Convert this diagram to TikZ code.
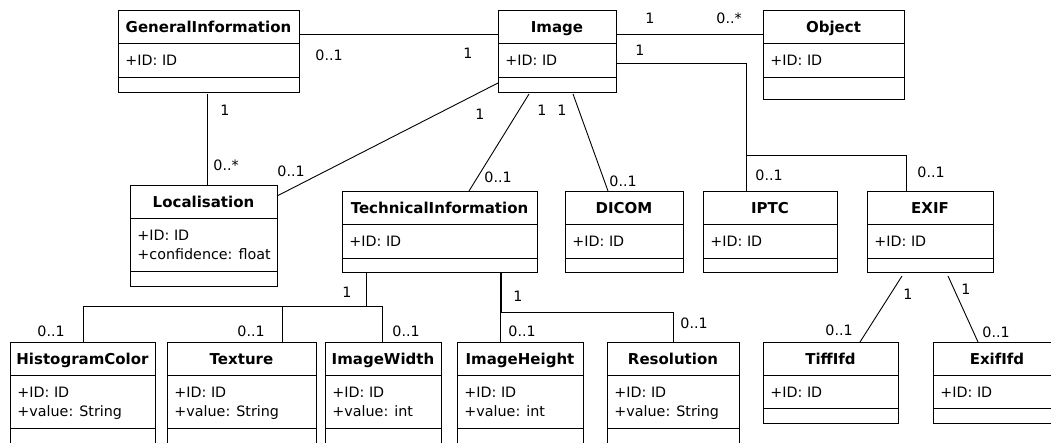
\documentclass[tikz,border=0pt]{standalone}
\usepackage{fontspec}
\setmainfont{DejaVu Sans}
\tikzset{
  classbox/.style={draw, rectangle, inner sep=0pt, outer sep=0pt, anchor=north west},
  classname/.style={font=\fontsize{15}{18}\selectfont\bfseries, anchor=base, inner sep=0pt},
  attr/.style={anchor=base west, inner sep=0pt},
  mult/.style={anchor=base west, inner sep=0pt},
}
% name, corner, width, height, title, height of attribute part, attributes
\newcommand{\umlclass}[7]{%
  \node[classbox, minimum width=#3pt, minimum height=#4pt] (#1) at (#2) {};
  \draw ([yshift=-33pt]#1.north west) -- ([yshift=-33pt]#1.north east);
  \draw ([yshift=-33pt-#6pt]#1.north west) -- ([yshift=-33pt-#6pt]#1.north east);
  \node[classname] at ([yshift=-22pt]#1.north) {#5};
  \foreach \a [count=\i] in {#7}
    \node[attr] at ([xshift=7pt, yshift={(-36-19*\i)*1pt}]#1.north west) {\a};
}
\begin{document}
\begin{tikzpicture}[x=1pt, y=-1pt, line width=0.9pt, font=\fontsize{14.3}{18}\selectfont]
\clip (0,0) rectangle (1051,442);
\fill[white] (0,0) rectangle (1051,442);
% classes
\umlclass{geninfo}{118,10}{181}{82}{GeneralInformation}{34}{+ID: ID}
\umlclass{image}{498,10}{118}{82}{Image}{34}{+ID: ID}
\umlclass{object}{763,10}{141}{89}{Object}{34}{+ID: ID}
\umlclass{localisation}{130,185}{147}{101}{Localisation}{53}{+ID: ID, +confidence: float}
\umlclass{techinfo}{342,191}{195}{81}{TechnicalInformation}{34}{+ID: ID}
\umlclass{dicom}{565,191}{118}{81}{DICOM}{34}{+ID: ID}
\umlclass{iptc}{703,191}{134}{81}{IPTC}{34}{+ID: ID}
\umlclass{exif}{867,191}{126}{81}{EXIF}{34}{+ID: ID}
\umlclass{histogram}{10,342}{145}{110}{HistogramColor}{53}{+ID: ID, +value: String}
\umlclass{texture}{167,342}{149}{110}{Texture}{53}{+ID: ID, +value: String}
\umlclass{imagewidth}{325,342}{116}{110}{ImageWidth}{53}{+ID: ID, +value: int}
\umlclass{imageheight}{457,342}{126}{110}{ImageHeight}{53}{+ID: ID, +value: int}
\umlclass{resolution}{607,342}{132}{110}{Resolution}{53}{+ID: ID, +value: String}
\umlclass{tiffifd}{763,342}{135}{81}{TiffIfd}{33}{+ID: ID}
\umlclass{exififd}{933,342}{128}{81}{ExifIfd}{33}{+ID: ID}
% associations
\coordinate (jmeta) at (746,155);
\coordinate (tleft) at (366,306);
\coordinate (tright) at (501,312);
\draw ([yshift=-24pt]geninfo.north east) -- ([yshift=-24pt]image.north west);
\draw ([yshift=-24pt]image.north east) -- ([yshift=-24pt]object.north west);
\draw ([yshift=-53pt]image.north east) -| ([xshift=43pt]iptc.north west);
\draw (jmeta) -| ([xshift=39pt]exif.north west);
\draw ([xshift=89pt,yshift=-2pt]geninfo.south west) -- ([xshift=77pt]localisation.north west);
\draw ([yshift=9pt]image.south west) -- ([yshift=-11pt]localisation.north east);
\draw ([xshift=31pt,yshift=-2pt]image.south west) -- ([xshift=127pt]techinfo.north west);
\draw ([xshift=75pt,yshift=-2pt]image.south west) -- ([xshift=43pt]dicom.north west);
\draw ([xshift=24pt]techinfo.south west) -- (tleft) -| ([xshift=73pt]histogram.north west);
\draw (tleft) -| ([xshift=115pt]texture.north west);
\draw (tleft) -| ([xshift=57pt]imagewidth.north west);
\draw ([xshift=158pt]techinfo.south west) -- ([xshift=43pt]imageheight.north west);
\draw ([xshift=159pt]techinfo.south west) -- (tright) -| ([xshift=66pt]resolution.north west);
\draw ([xshift=35pt,yshift=-4pt]exif.south west) -- ([xshift=97pt]tiffifd.north west);
\draw ([xshift=81pt,yshift=-4pt]exif.south west) -- ([xshift=45pt]exififd.north west);
% multiplicities
\foreach \p/\t in {{315,60}/0..1, {463,58}/1, {645,23}/1, {716,23}/0..*,
    {635,55}/1, {755,180}/0..1, {917,177}/0..1, {220,115}/1, {213,170}/0..*,
    {475,119}/1, {277,176}/0..1, {537,115}/1, {557,115}/1, {484,182}/0..1,
    {609,186}/0..1, {342,297}/1, {37,336}/0..1, {237,336}/0..1, {392,336}/0..1,
    {513,301}/1, {508,336}/0..1, {680,328}/0..1, {903,299}/1, {961,294}/1,
    {825,335}/0..1, {982,337}/0..1}
  \node[mult] at (\p) {\t};
\end{tikzpicture}
\end{document}
